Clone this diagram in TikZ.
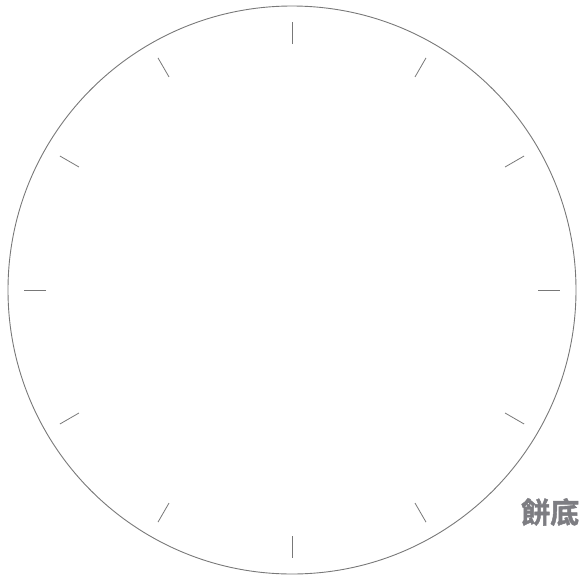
\documentclass[tikz,border=0pt]{standalone}
\usepackage{fontspec}
\newfontfamily\cjk{Noto Sans CJK SC}[BoldFont={Noto Sans CJK SC Bold}, BoldFeatures={FakeBold=1.5}]
\definecolor{rimgray}{RGB}{120,120,120}
\definecolor{labelgray}{RGB}{125,125,130}
\begin{document}
\begin{tikzpicture}[
        x=1pt, y=1pt,
        rim/.style={draw=rimgray, line width=0.9pt},
        tick/.style={draw=rimgray, line width=0.8pt},
        tag/.style={font=\cjk\bfseries\fontsize{29}{29}\selectfont, text=labelgray, inner sep=0pt}
    ]
        \useasboundingbox (0, 0) rectangle (581, -576);
        % plate rim
        \node[rim, circle, minimum size=568pt, inner sep=0pt] (plate) at (292, -290) {};
        % hour ticks
        \foreach \a in {0, 30, ..., 330}
            \draw[tick] (plate.center) ++(\a:246) -- ++(\a:22);
        % label
        \node[tag, anchor=west] (base) at (521, -512) {餅底};
    \end{tikzpicture}
\end{document}
